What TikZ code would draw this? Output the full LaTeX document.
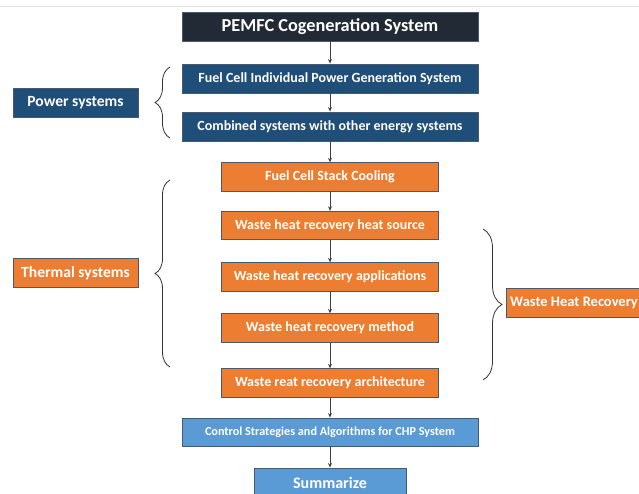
\documentclass[tikz,border=0pt]{standalone}
\usepackage{fontspec}
\setmainfont{Carlito}
\usetikzlibrary{arrows.meta,decorations.pathreplacing}

\definecolor{titlecol}{HTML}{222A35}
\definecolor{powercol}{HTML}{1F4E79}
\definecolor{heatcol}{HTML}{ED7D31}
\definecolor{ctrlcol}{HTML}{5B9BD5}
\definecolor{edgecol}{HTML}{4A5A6E}

\tikzset{
  box/.style={draw=edgecol, line width=0.9pt, text=white, font=\bfseries,
              inner sep=0pt, align=center},
  titlebox/.style={box, fill=titlecol, minimum width=296, minimum height=29,
                   font=\fontsize{18.3}{20}\selectfont\bfseries},
  powerbox/.style={box, fill=powercol, minimum width=296, minimum height=29,
                   font=\fontsize{14}{16}\selectfont\bfseries},
  heatbox/.style={box, fill=heatcol, minimum width=217, minimum height=28.5,
                  font=\fontsize{14}{16}\selectfont\bfseries},
  ctrlbox/.style={box, fill=ctrlcol, minimum width=296, minimum height=28,
                  font=\fontsize{12.2}{14}\selectfont\bfseries},
  sidebox/.style={box, minimum width=125, minimum height=29,
                  font=\fontsize{15.6}{17}\selectfont\bfseries},
  flow/.style={line width=0.8pt, draw=black!75, -{Stealth[length=4.5pt,width=4pt]}},
  bracket/.style={line width=0.8pt, draw=black!80,
                  decorate, decoration={brace, amplitude=#1}}
}

\begin{document}
\begin{tikzpicture}[x=1pt, y=-1pt]
  \useasboundingbox (0,0) rectangle (639,493);
  \clip (0,0) rectangle (639,493);
  \draw[black!12, line width=1pt] (0,6) -- (639,6);

  \node[titlebox] (pemfc) at (330,26.5) {PEMFC Cogeneration System};
  \node[powerbox] (single) at (330,78.5) {Fuel Cell Individual Power Generation System};
  \node[powerbox] (combined) at (330,126.5) {Combined systems with other energy systems};
  \node[heatbox] (cooling) at (330,177) {Fuel Cell Stack Cooling};
  \node[heatbox] (source) at (330,225.5) {Waste heat recovery heat source};
  \node[heatbox] (appl) at (330,277) {Waste heat recovery applications};
  \node[heatbox] (method) at (330,328) {Waste heat recovery method};
  \node[heatbox] (arch) at (330,383) {Waste reat recovery architecture};
  \node[ctrlbox] (ctrl) at (330,432) {Control Strategies and Algorithms for CHP System};
  \node[ctrlbox, minimum width=152, minimum height=30,
        font=\fontsize{16}{18}\selectfont\bfseries] (summ) at (330,483) {Summarize};

  \node[sidebox, fill=powercol] (power) at (75.5,102.5) {Power systems};
  \node[sidebox, fill=heatcol] (thermal) at (75.5,273) {Thermal systems};
  \node[sidebox, fill=heatcol, minimum width=136,
        font=\fontsize{14.5}{16}\selectfont\bfseries] (whr) at (574,302.5) {Waste Heat Recovery};

  \draw[flow] (pemfc) -- (single);
  \draw[flow] (single) -- (combined);
  \draw[flow] (combined) -- (cooling);
  \draw[flow] (cooling) -- (source);
  \draw[flow] (source) -- (appl);
  \draw[flow] (appl) -- (method);
  \draw[flow] (method) -- (arch);
  \draw[flow] (arch) -- (ctrl);
  \draw[flow] (ctrl) -- (summ);

  % braces
  \draw[bracket=15pt] (170,138) -- (170,67);
  \draw[bracket=15pt] (170,367) -- (170,180);
  \draw[bracket=19pt] (483,229) -- (483,380);
\end{tikzpicture}
\end{document}
